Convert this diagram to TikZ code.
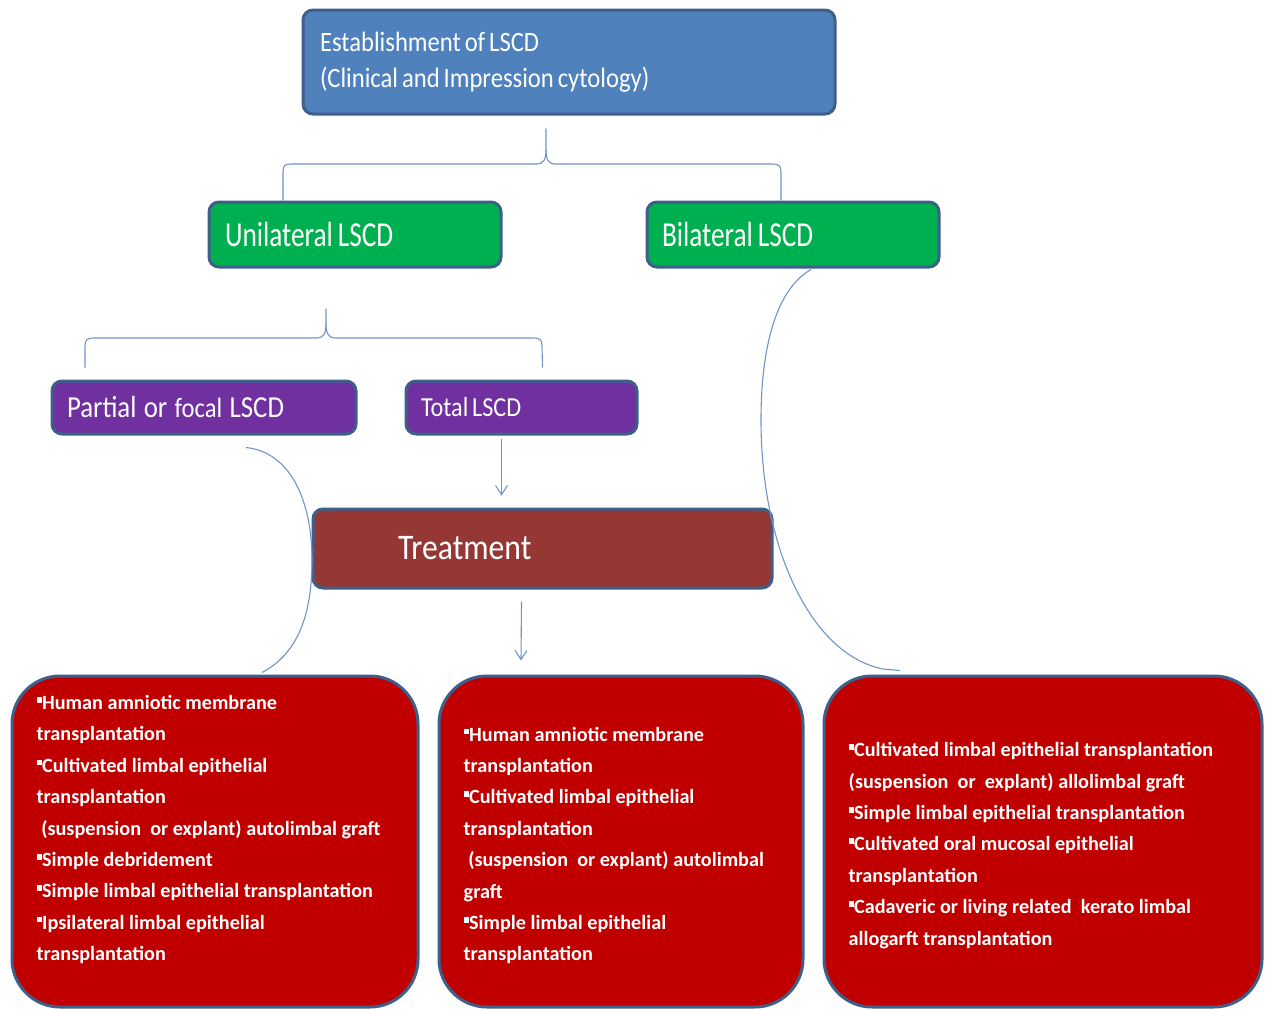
\documentclass[tikz,border=0pt]{standalone}
\usepackage{fontspec}
\setmainfont{Carlito}
\newfontfamily\headA{Carlito}[FakeStretch=0.78]
\newfontfamily\headB{Carlito}[FakeStretch=0.88]
\usetikzlibrary{arrows.meta,calc}
\definecolor{topblue}{HTML}{4F81BD}
\definecolor{edgeblue}{HTML}{3E5F8A}
\definecolor{greenbox}{HTML}{00B050}
\definecolor{purplebox}{HTML}{7030A0}
\definecolor{treatred}{HTML}{953735}
\definecolor{boxred}{HTML}{C00000}
\definecolor{linkblue}{HTML}{6F94C8}
\newcommand{\bsq}{\rule[0.34em]{0.24em}{0.28em}\kern0.03em}
\newcommand{\tight}{\spaceskip=0.14em\xspaceskip=0.14em\relax}
\newcommand{\midsp}{\spaceskip=0.24em\xspaceskip=0.24em\relax}
\begin{document}
\begin{tikzpicture}[x=1pt,y=-1pt,
  hbox/.style={draw=edgeblue, line width=3pt, rounded corners=10pt, inner sep=0pt,
    text=white, align=left},
  bigbox/.style={draw=edgeblue, line width=3pt, rounded corners=48pt, inner sep=0pt,
    fill=boxred},
  bodytext/.style={text=white, align=left, inner sep=0pt,
    font=\bfseries\fontsize{20.2}{31.4}\selectfont},
  link/.style={draw=linkblue, line width=1.1pt},
  arr/.style={link, -{Straight Barb[length=9pt,width=12pt]}}]
\useasboundingbox (0,0) rectangle (1270,1009);

% boxes
\node[hbox, fill=topblue, minimum width=532, minimum height=104, text width=498,
  font=\headB\fontsize{28}{36}\selectfont] (est) at (569,62)
  {\tight Establishment of LSCD\\\tight(Clinical and Impression cytology)};
\node[hbox, fill=greenbox, minimum width=292, minimum height=65, text width=260,
  font=\headA\fontsize{35}{40}\selectfont] (uni) at (355,234.5) {\tight Unilateral LSCD};
\node[hbox, fill=greenbox, minimum width=292, minimum height=65, text width=262,
  font=\headA\fontsize{35}{40}\selectfont] (bil) at (793,234.5) {\tight Bilateral LSCD};
\node[hbox, fill=purplebox, minimum width=304, minimum height=53, text width=274,
  font=\headB\fontsize{30.5}{34}\selectfont] (par) at (204,407.5) {\midsp Partial or {\fontsize{28}{30}\selectfont\midsp focal} LSCD};
\node[hbox, fill=purplebox, minimum width=231, minimum height=53, text width=201,
  font=\headB\fontsize{27.5}{30}\selectfont] (tot) at (521.5,407.5) {\tight Total LSCD};
\node[hbox, fill=treatred, minimum width=459, minimum height=79, text width=289,
  font=\headB\fontsize{36}{40}\selectfont] (tre) at (542.5,548.5) {Treatment};

\node[bigbox, minimum width=406, minimum height=331] (bl) at (215,841.5) {};
\node[bigbox, minimum width=364, minimum height=331] (bm) at (621,841.5) {};
\node[bigbox, minimum width=438, minimum height=331] (br) at (1043,841.5) {};

\node[bodytext, anchor=west] (tl) at ($(bl.west)+(26,-12)$) {%
\bsq Human amniotic membrane\\
transplantation\\
\bsq Cultivated limbal epithelial\\
transplantation\\
\ (suspension\ \ or explant) autolimbal graft\\
\bsq Simple debridement\\
\bsq Simple limbal epithelial transplantation\\
\bsq Ipsilateral limbal epithelial\\
transplantation};
\node[bodytext, anchor=west] (tm) at ($(bm.west)+(26,4)$) {%
\bsq Human amniotic membrane\\
transplantation\\
\bsq Cultivated limbal epithelial\\
transplantation\\
\ (suspension\ \ or explant) autolimbal\\
graft\\
\bsq Simple limbal epithelial\\
transplantation};
\node[bodytext, anchor=west] (tr) at ($(br.west)+(26,4)$) {%
\bsq Cultivated limbal epithelial transplantation\\
(suspension\ \ or\ \ explant) allolimbal graft\\
\bsq Simple limbal epithelial transplantation\\
\bsq Cultivated oral mucosal epithelial\\
transplantation\\
\bsq Cadaveric or living related\ \ kerato limbal\\
allogarft transplantation};

% connector coordinates
\coordinate (t1) at ($(est.south)+(-23,13)$);
\coordinate (l1) at (uni.north -| 283,0);
\coordinate (r1) at (bil.north -| 781,0);
\coordinate (t2) at ($(uni.south)+(-29,40)$);
\coordinate (l2) at ($(par.north)+(-119,-12)$);
\coordinate (r2) at ($(tot.north)+(21,-12)$);
\coordinate (a1s) at ($(tot.south)+(-20,3)$);
\coordinate (a1e) at ($(tre.north)+(-41,-12)$);
\coordinate (a2s) at ($(tre.south)+(-21,12)$);
\coordinate (a2e) at ($(bm.north)+(-100,-14)$);
\coordinate (ps) at ($(par.south)+(42,12)$);
\coordinate (pe) at ($(bl.north)+(47,-2)$);
\coordinate (bs) at ($(bil.south)+(18,1)$);
\coordinate (be) at ($(br.north)+(-143,-4)$);

% bracket 1
\draw[link] (l1) -- ++(0,-29) .. controls ++(0,-6) and (285,164) .. (292,164)
  -- (537,164) .. controls (543,164) and (546,160) .. (546,150) -- (t1);
\draw[link] (546,150) .. controls (546,160) and (549,164) .. (555,164)
  -- (772,164) .. controls (779,164) and (781,166) .. (781,172) -- (r1);
% bracket 2
\draw[link] (l2) -- (85,346) .. controls (85,340) and (87,338) .. (94,338)
  -- (317,338) .. controls (323,338) and (326,334) .. (326,324) -- (t2);
\draw[link] (326,324) .. controls (326,334) and (329,338) .. (335,338)
  -- (533,338) .. controls (540,338) and (542,340) .. (542,346) -- (r2);
% arrows
\draw[arr] (a1s) -- (a1e);
\draw[arr] (a2s) -- (a2e);
% curves
\draw[link] (ps) .. controls (290,452) and (312,500) .. (312,560)
  .. controls (312,620) and (295,655) .. (pe);
\draw[link] (bs) .. controls (775,290) and (761,350) .. (761,420)
  .. controls (761,550) and (812,655) .. (883,669) -- (be);
\end{tikzpicture}
\end{document}
